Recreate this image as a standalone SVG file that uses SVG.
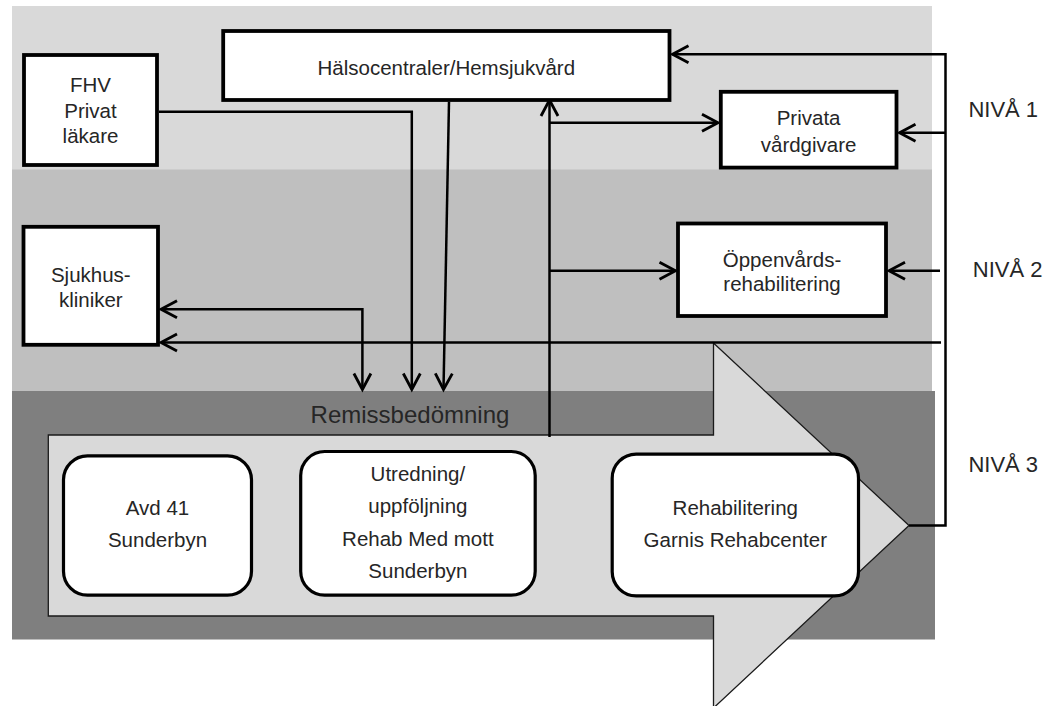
<svg xmlns="http://www.w3.org/2000/svg" width="1051" height="706" viewBox="0 0 1051 706">
<style>
.t{font-family:"Liberation Sans",Arial,sans-serif;font-size:20.5px;fill:#262626;text-anchor:middle}
.n{font-family:"Liberation Sans",Arial,sans-serif;font-size:22px;fill:#262626}
.box{fill:#fff;stroke:#000;stroke-width:3.8}
.rbox{fill:#fff;stroke:#000;stroke-width:3.2}
.c{fill:none;stroke:#000;stroke-width:2.5}
</style>
<defs>
<marker id="ah" markerUnits="userSpaceOnUse" markerWidth="20" markerHeight="20" refX="0" refY="0" orient="auto-start-reverse" overflow="visible">
<path d="M-16,-8.5 L0,0 L-16,8.5" fill="none" stroke="#000" stroke-width="2.8"/>
</marker>
</defs>
<rect width="1051" height="706" fill="#fff"/>
<g id="bands">
<rect x="12" y="6" width="920" height="164" fill="#d9d9d9"/>
<rect x="12" y="169.5" width="920" height="222" fill="#bfbfbf"/>
<rect x="12" y="391" width="923" height="248.5" fill="#7f7f7f"/>
</g>
<g id="big-arrow">
<polygon points="48.3,435 713.5,435 713.5,343 909,525.5 713.5,708 713.5,616 48.3,616" fill="#d9d9d9" stroke="#1a1a1a" stroke-width="1.3"/>
</g>
<text class="t" x="410" y="423.3" style="font-size:24px">Remissbedömning</text>
<g id="connectors">
<path class="c" d="M159,111.7 H411.8 V389.5" marker-end="url(#ah)"/>
<path class="c" d="M449,101.7 L443.5,389.5" marker-end="url(#ah)"/>
<path class="c" d="M161,309.3 H362.4 V389.5" marker-start="url(#ah)" marker-end="url(#ah)"/>
<path class="c" d="M941,342.5 H161" marker-end="url(#ah)"/>
<path class="c" d="M549.5,437 V100" marker-end="url(#ah)"/>
<path class="c" d="M549.5,122.7 H718" marker-end="url(#ah)"/>
<path class="c" d="M549.5,270.7 H675.5" marker-end="url(#ah)"/>
<path class="c" d="M909,525.5 H945.5 V54.3 H672.5" marker-end="url(#ah)"/>
<path class="c" d="M945.5,132.7 H899.5" marker-end="url(#ah)"/>
<path class="c" d="M940,270.7 H889" marker-end="url(#ah)"/>
</g>
<g id="fhv">
<rect class="box" x="24" y="55" width="133" height="110"/>
<text class="t" x="90.5" y="91.7">FHV</text>
<text class="t" x="90.5" y="118.3">Privat</text>
<text class="t" x="90.5" y="143.3">läkare</text>
</g>
<g id="halsocentraler">
<rect class="box" x="223.2" y="31" width="446.3" height="69"/>
<text class="t" x="446.3" y="75">Hälsocentraler/Hemsjukvård</text>
</g>
<g id="privata">
<rect class="box" x="720.8" y="91.8" width="175.7" height="75.8"/>
<text class="t" x="808.6" y="125">Privata</text>
<text class="t" x="808.6" y="151.7">vårdgivare</text>
</g>
<g id="oppenvard">
<rect class="box" x="678" y="223.5" width="208" height="92.5"/>
<text class="t" x="782" y="266.7">Öppenvårds-</text>
<text class="t" x="782" y="290.7">rehabilitering</text>
</g>
<g id="sjukhus">
<rect class="box" x="23.5" y="226.8" width="134.5" height="118"/>
<text class="t" x="90.8" y="281.7">Sjukhus-</text>
<text class="t" x="90.8" y="306.7">kliniker</text>
</g>
<g id="avd41">
<rect class="rbox" x="63.5" y="455.8" width="188" height="139.4" rx="24"/>
<text class="t" x="157.5" y="515">Avd 41</text>
<text class="t" x="157.5" y="547.3">Sunderbyn</text>
</g>
<g id="utredning">
<rect class="rbox" x="300.7" y="451.5" width="234.5" height="143.7" rx="24"/>
<text class="t" x="417.9" y="480.7">Utredning/</text>
<text class="t" x="417.9" y="513.3">uppföljning</text>
<text class="t" x="417.9" y="546">Rehab Med mott</text>
<text class="t" x="417.9" y="578.3">Sunderbyn</text>
</g>
<g id="rehabilitering">
<rect class="rbox" x="612.2" y="454.2" width="246.3" height="141.6" rx="24"/>
<text class="t" x="735.3" y="515">Rehabilitering</text>
<text class="t" x="735.3" y="546.7">Garnis Rehabcenter</text>
</g>
<g id="levels">
<text class="n" x="968.4" y="117.3">NIVÅ 1</text>
<text class="n" x="972.8" y="276.7">NIVÅ 2</text>
<text class="n" x="968.4" y="471.7">NIVÅ 3</text>
</g>
</svg>
